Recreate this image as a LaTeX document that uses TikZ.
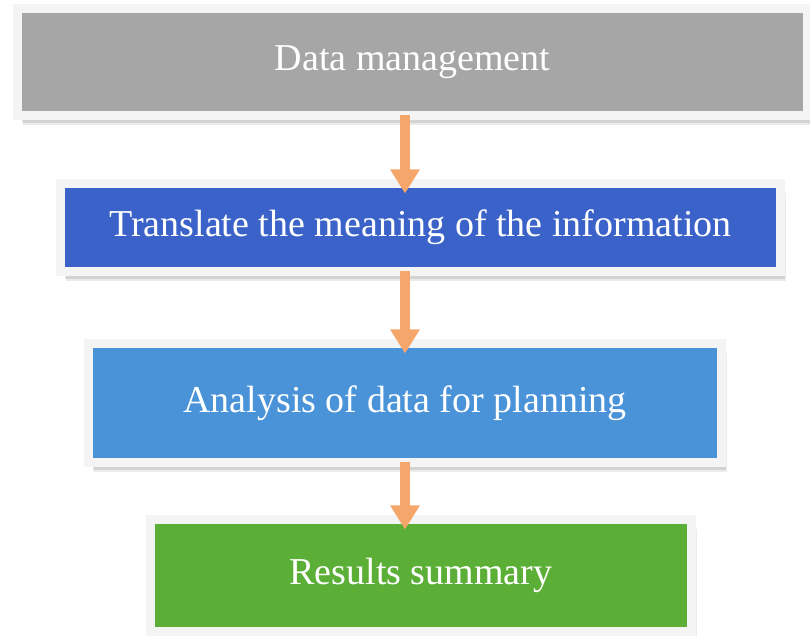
\documentclass[tikz,border=0pt]{standalone}
\usepackage{fontspec}
\setmainfont{Liberation Serif}
\usetikzlibrary{arrows.meta,shadows}
\definecolor{boxgray}{HTML}{A6A6A6}
\definecolor{boxblue}{HTML}{3A62C9}
\definecolor{boxsky}{HTML}{4A93D8}
\definecolor{boxgreen}{HTML}{5BAF37}
\definecolor{framegray}{HTML}{F4F4F4}
\definecolor{arrorange}{HTML}{F5A66B}
\tikzset{
  stepbox/.style={rectangle, draw=framegray, line width=4.5pt, text=white,
    font=\fontsize{19}{23}\selectfont, inner sep=0pt, outer sep=0pt,
    drop shadow={shadow xshift=2.5pt, shadow yshift=-5pt, opacity=0.08, fill=black},
    drop shadow={shadow xshift=2pt, shadow yshift=-4pt, opacity=0.1, fill=black},
    drop shadow={shadow xshift=1pt, shadow yshift=-2.5pt, opacity=0.12, fill=black}},
  flow/.style={draw=arrorange, line width=5pt, -{Triangle[width=14pt,length=12pt]},
    shorten >=-5pt}
}
\begin{document}
\begin{tikzpicture}[x=0.5pt,y=-0.5pt]
\useasboundingbox (0,0) rectangle (810,636);
\node[stepbox, fill=boxgray, minimum width=395pt, minimum height=53.5pt] (manage) at (412.5,62){Data management};
\node[stepbox, fill=boxblue, minimum width=360pt, minimum height=44pt] (translate) at (420.5,227.5){Translate the meaning of the information};
\node[stepbox, fill=boxsky, minimum width=316.5pt, minimum height=59.5pt] (analysis) at (405,403){Analysis of data for planning};
\node[stepbox, fill=boxgreen, minimum width=270.5pt, minimum height=56pt] (results) at (421,575.5){Results summary};
\draw[flow] (manage.south -| analysis.center) -- (translate.north -| analysis.center);
\draw[flow] (translate.south -| analysis.center) -- (analysis.north);
\draw[flow] (analysis.south) -- (results.north -| analysis.center);
\end{tikzpicture}
\end{document}
